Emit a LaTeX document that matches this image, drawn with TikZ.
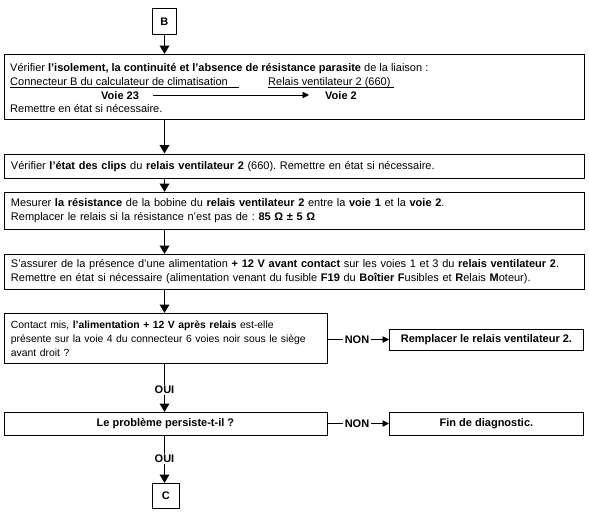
\documentclass[tikz,border=0pt]{standalone}
\usepackage{fontspec}
\setmainfont{Liberation Sans}
\usetikzlibrary{arrows.meta}
\frenchspacing
\begin{document}
\begin{tikzpicture}[x=1pt,y=-1pt,
  every node/.style={font=\fontsize{11}{13.8}\selectfont},
  box/.style={draw,line width=0.9pt,inner sep=0pt,anchor=north west},
  txt/.style={inner sep=0pt,anchor=base west},
  flow/.style={line width=1.8pt,-{Triangle[width=9.5pt,length=8.5pt]}},
  thin/.style={line width=0.8pt},
  thinarrow/.style={line width=0.8pt,-{Triangle[width=6.5pt,length=6.5pt]}},
  lbl/.style={inner xsep=2pt,inner ysep=1pt,font=\fontsize{11}{12}\selectfont\bfseries}]
\useasboundingbox (0,0) rectangle (589,522);

% B connector
\node[box,minimum width=24pt,minimum height=26pt] (B) at (152,8) {\textbf{B}};

% Box 1
\node[box,minimum width=580pt,minimum height=65pt] (b1) at (3.5,54) {};
\node[txt] (l1) at (10,71) {Vérifier \textbf{l'isolement, la continuité et l'absence de résistance parasite} de la liaison :};
\node[txt] (c1) at (10,85) {Connecteur B du calculateur de climatisation};
\draw[thin] ([yshift=-2.4pt]c1.base west) -- ++(229,0);
\node[txt] (c2) at (268,85) {Relais ventilateur 2 (660)};
\draw[thin] ([yshift=-2.4pt]c2.base west) -- ++(126,0);
\node[txt] (v23) at (101,99) {\textbf{Voie 23}};
\node[txt] (v2) at (325,99) {\textbf{Voie 2}};
\coordinate (a1) at (153,95);
\coordinate (a2) at (309,95);
\draw[thinarrow] (a1) -- (a2);
\node[txt] (l4) at (10,112) {Remettre en état si nécessaire.};

% Box 2
\node[box,minimum width=580pt,minimum height=24.5pt,align=left,text width=566pt,inner xsep=7pt] (b2) at (3.5,153.5)
 {Vérifier \textbf{l'état des clips} du \textbf{relais ventilateur 2} (660). Remettre en état si nécessaire.};

% Box 3
\node[box,minimum width=580pt,minimum height=37pt,align=left,text width=566pt,inner xsep=7pt] (b3) at (3.5,192)
 {Mesurer \textbf{la résistance} de la bobine du \textbf{relais ventilateur 2} entre la \textbf{voie 1} et la \textbf{voie 2}.\\
  Remplacer le relais si la résistance n'est pas de : \textbf{85 Ω ± 5 Ω}};

% Box 4
\node[box,minimum width=580pt,minimum height=35pt,align=left,text width=566pt,inner xsep=7pt] (b4) at (3.5,254)
 {S'assurer de la présence d'une alimentation \textbf{+ 12 V avant contact} sur les voies 1 et 3 du \textbf{relais ventilateur 2}.\\
  Remettre en état si nécessaire (alimentation venant du fusible \textbf{F19} du \textbf{Boîtier F}usibles et \textbf{R}elais \textbf{M}oteur).};

% Box 5
\node[box,minimum width=323pt,minimum height=50pt,align=left,text width=309pt,inner xsep=7pt,
      font=\fontsize{10.4}{13.8}\selectfont] (b5) at (3.5,313)
 {Contact mis, \textbf{l'alimentation + 12 V après relais} est-elle\\
  présente sur la voie 4 du connecteur 6 voies noir sous le siège\\
  avant droit ?};
\node[box,minimum width=194pt,minimum height=21pt] (r5) at (389,329)
 {\textbf{Remplacer le relais ventilateur 2.}};

% Box 6
\node[box,minimum width=323pt,minimum height=23pt] (b6) at (3.5,412)
 {\textbf{Le problème persiste-t-il ?}};
\node[box,minimum width=194pt,minimum height=23pt] (r6) at (389,412)
 {\textbf{Fin de diagnostic.}};

% C connector
\node[box,minimum width=27pt,minimum height=25pt] (C) at (152,483) {\textbf{C}};

% flow arrows
\draw[flow] (B.south -| 164.5,0) -- (b1.north -| 164.5,0);
\draw[flow] (b1.south -| 164.5,0) -- (b2.north -| 164.5,0);
\draw[flow] (b2.south -| 164.5,0) -- (b3.north -| 164.5,0);
\draw[flow] (b3.south -| 164.5,0) -- (b4.north -| 164.5,0);
\draw[flow] (b4.south -| 164.5,0) -- (b5.north -| 164.5,0);

\node[lbl] (oui1) at (164.5,390) {OUI};
\draw[thin] (b5.south -| 164.5,0) -- (oui1.north);
\draw[flow] (oui1.south) -- (b6.north -| 164.5,0);

\node[lbl] (oui2) at (164.5,459) {OUI};
\draw[thin] (b6.south -| 164.5,0) -- (oui2.north);
\draw[flow] (oui2.south) -- (C.north -| 164.5,0);

\node[lbl] (non1) at (357,339.5) {NON};
\draw[thin] (b5.east |- non1) -- (non1.west);
\draw[thinarrow] (non1.east) -- (r5.west |- non1);

\node[lbl] (non2) at (357,423.5) {NON};
\draw[thin] (b6.east |- non2) -- (non2.west);
\draw[thinarrow] (non2.east) -- (r6.west |- non2);
\end{tikzpicture}
\end{document}
